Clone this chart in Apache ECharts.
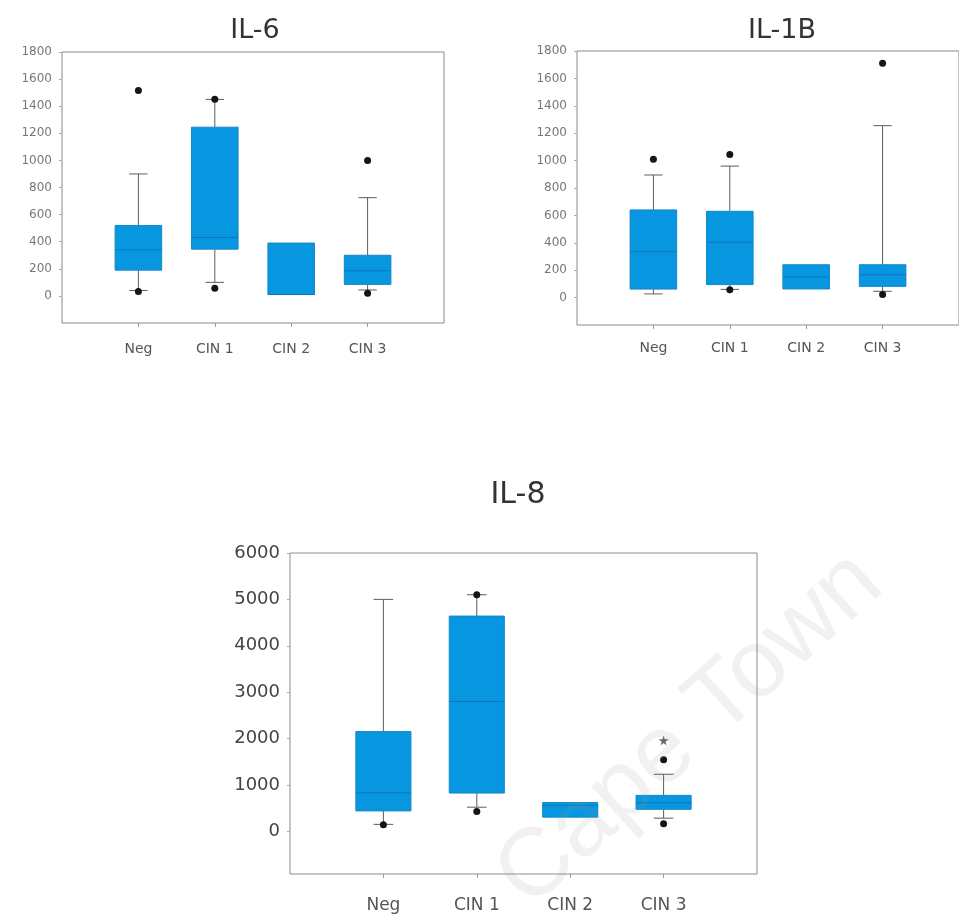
<!DOCTYPE html>
<html>
<head>
<meta charset="utf-8">
<script src="https://cdn.jsdelivr.net/npm/echarts@6/dist/echarts.min.js"></script>
<style>
html,body{margin:0;padding:0;background:#fff;}
#chart{width:959px;height:921px;}
</style>
</head>
<body>
<div id="chart"></div>
<script>
// ---- data ----
const categories = ['Neg', 'CIN 1', 'CIN 2', 'CIN 3'];

// [lower whisker, Q1, median, Q3, upper whisker] per category
const il6Stats = [
  [40, 190, 340, 520, 900],
  [100, 345, 430, 1245, 1450],
  [null, 10, 10, 390, null],
  [44, 85, 185, 300, 725]
];
const il6Outliers = [[1, 1515], [1, 32], [2, 1452], [2, 57], [4, 1000], [4, 20]];
const il6Ticks = [0, 200, 400, 600, 800, 1000, 1200, 1400, 1600, 1800];

const il1bStats = [
  [27, 62, 335, 640, 895],
  [60, 95, 405, 630, 960],
  [null, 63, 150, 240, null],
  [46, 82, 167, 240, 1255]
];
const il1bOutliers = [[1, 1010], [2, 1045], [2, 58], [4, 1710], [4, 22]];
const il1bTicks = [0, 200, 400, 600, 800, 1000, 1200, 1400, 1600, 1800];

const il8Stats = [
  [150, 440, 830, 2150, 5000],
  [520, 825, 2800, 4640, 5100],
  [null, 306, 560, 620, null],
  [284, 475, 615, 775, 1230]
];
const il8Outliers = [[1, 140], [2, 5100], [2, 427], [4, 1545], [4, 162]];
const il8Extremes = [[4, 1960]];
const il8Ticks = [0, 1000, 2000, 3000, 4000, 5000, 6000];

const catPositions = [1, 2, 3, 4];

// ---- chart ----
const FONT = 'DejaVu Sans';
function ok(v) { return v !== null && v !== undefined && !isNaN(v); }

function boxRender(boxRatio, capRatio) {
  return function (params, api) {
    const x = api.value(0);
    const unit = api.size([1, 0])[0];
    const hb = unit * boxRatio / 2;
    const hc = unit * capRatio / 2;
    const wl = api.value(1), q1 = api.value(2), med = api.value(3), q3 = api.value(4), wh = api.value(5);
    const c = v => api.coord([x, v]);
    const ls = { stroke: '#5c5c5c', lineWidth: 1 };
    const ch = [];
    if (ok(wh)) {
      const a = c(q3), b = c(wh);
      ch.push({ type: 'line', shape: { x1: a[0], y1: a[1], x2: b[0], y2: b[1] }, style: ls });
      ch.push({ type: 'line', shape: { x1: b[0] - hc, y1: b[1], x2: b[0] + hc, y2: b[1] }, style: ls });
    }
    if (ok(wl)) {
      const a = c(q1), b = c(wl);
      ch.push({ type: 'line', shape: { x1: a[0], y1: a[1], x2: b[0], y2: b[1] }, style: ls });
      ch.push({ type: 'line', shape: { x1: b[0] - hc, y1: b[1], x2: b[0] + hc, y2: b[1] }, style: ls });
    }
    const t = c(q3), bt = c(q1), m = c(med);
    ch.push({ type: 'rect', shape: { x: t[0] - hb, y: t[1], width: 2 * hb, height: bt[1] - t[1] },
      style: { fill: '#0797e1', stroke: '#1588c8', lineWidth: 1 } });
    ch.push({ type: 'line', shape: { x1: m[0] - hb, y1: m[1], x2: m[0] + hb, y2: m[1] },
      style: { stroke: '#0c74b4', lineWidth: 1 } });
    return { type: 'group', children: ch };
  };
}

function xAxis(gi, max, fs, margin) {
  return {
    type: 'value', gridIndex: gi, min: 0, max: max,
    axisLine: { show: false, onZero: false },
    splitLine: { show: false },
    axisTick: { show: true, customValues: catPositions, length: 4, lineStyle: { color: '#999' } },
    axisLabel: { customValues: catPositions, margin: margin, color: '#555', fontSize: fs, fontFamily: FONT,
      formatter: v => categories[Math.round(v) - 1] || '' }
  };
}
function yAxis(gi, min, max, ticks, fs, color, margin) {
  return {
    type: 'value', gridIndex: gi, min: min, max: max,
    axisLine: { show: false, onZero: false },
    splitLine: { show: false },
    axisTick: { show: true, customValues: ticks, length: 3, lineStyle: { color: '#aaa' } },
    axisLabel: { customValues: ticks, margin: margin, color: color, fontSize: fs, fontFamily: FONT,
      formatter: v => String(v) }
  };
}

const boxData = stats => stats.map((s, i) => [i + 1].concat(s));
const dotStyle = { color: '#151515', opacity: 1 };

const option = {
  backgroundColor: '#fff',
  animation: false,
  title: [
    { text: 'IL-6', left: 250, top: 12, textAlign: 'center',
      textStyle: { fontFamily: FONT, fontSize: 27, fontWeight: 'normal', color: '#333' } },
    { text: 'IL-1B', left: 777, top: 12, textAlign: 'center',
      textStyle: { fontFamily: FONT, fontSize: 27, fontWeight: 'normal', color: '#333' } },
    { text: 'IL-8', left: 513, top: 475, textAlign: 'center',
      textStyle: { fontFamily: FONT, fontSize: 30, fontWeight: 'normal', color: '#333' } }
  ],
  grid: [
    { left: 62, top: 52, width: 382, height: 271, show: true, borderColor: '#8c8c8c', borderWidth: 1 },
    { left: 577, top: 51, width: 389, height: 274, show: true, borderColor: '#8c8c8c', borderWidth: 1 },
    { left: 290, top: 553, width: 467, height: 321, show: true, borderColor: '#8c8c8c', borderWidth: 1 }
  ],
  xAxis: [xAxis(0, 5, 14, 19), xAxis(1, 5, 14, 16), xAxis(2, 5, 17, 23)],
  yAxis: [
    yAxis(0, -200, 1800, il6Ticks, 12, '#777', 10),
    yAxis(1, -200, 1800, il1bTicks, 12, '#777', 10),
    yAxis(2, -920, 6000, il8Ticks, 18, '#444', 10)
  ],
  series: [
    { type: 'custom', xAxisIndex: 0, yAxisIndex: 0, renderItem: boxRender(0.61, 0.24),
      data: boxData(il6Stats), encode: { x: 0, y: [1, 2, 3, 4, 5] } },
    { type: 'scatter', xAxisIndex: 0, yAxisIndex: 0, data: il6Outliers, symbolSize: 7,
      itemStyle: dotStyle, z: 5 },
    { type: 'custom', xAxisIndex: 1, yAxisIndex: 1, renderItem: boxRender(0.61, 0.24),
      data: boxData(il1bStats), encode: { x: 0, y: [1, 2, 3, 4, 5] } },
    { type: 'scatter', xAxisIndex: 1, yAxisIndex: 1, data: il1bOutliers, symbolSize: 7,
      itemStyle: dotStyle, z: 5 },
    { type: 'custom', xAxisIndex: 2, yAxisIndex: 2, renderItem: boxRender(0.59, 0.21),
      data: boxData(il8Stats), encode: { x: 0, y: [1, 2, 3, 4, 5] } },
    { type: 'scatter', xAxisIndex: 2, yAxisIndex: 2, data: il8Outliers, symbolSize: 7,
      itemStyle: dotStyle, z: 5 },
    { type: 'scatter', xAxisIndex: 2, yAxisIndex: 2, data: il8Extremes, symbolSize: 10,
      symbol: 'path://M50,0 L61,35 L98,35 L68,57 L79,91 L50,70 L21,91 L32,57 L2,35 L39,35 Z',
      itemStyle: { color: '#666', opacity: 1 }, z: 5 }
  ],
  graphic: [
    { type: 'text', x: 690, y: 730, rotation: 42 * Math.PI / 180, z: 100, silent: true,
      style: { text: 'Cape Town', font: '96px "Liberation Sans"', fill: 'rgba(150,150,150,0.13)',
        align: 'center', verticalAlign: 'middle' } }
  ]
};

const chart = echarts.init(document.getElementById('chart'), null, { renderer: 'canvas' });
chart.setOption(option);
</script>
</body>
</html>
